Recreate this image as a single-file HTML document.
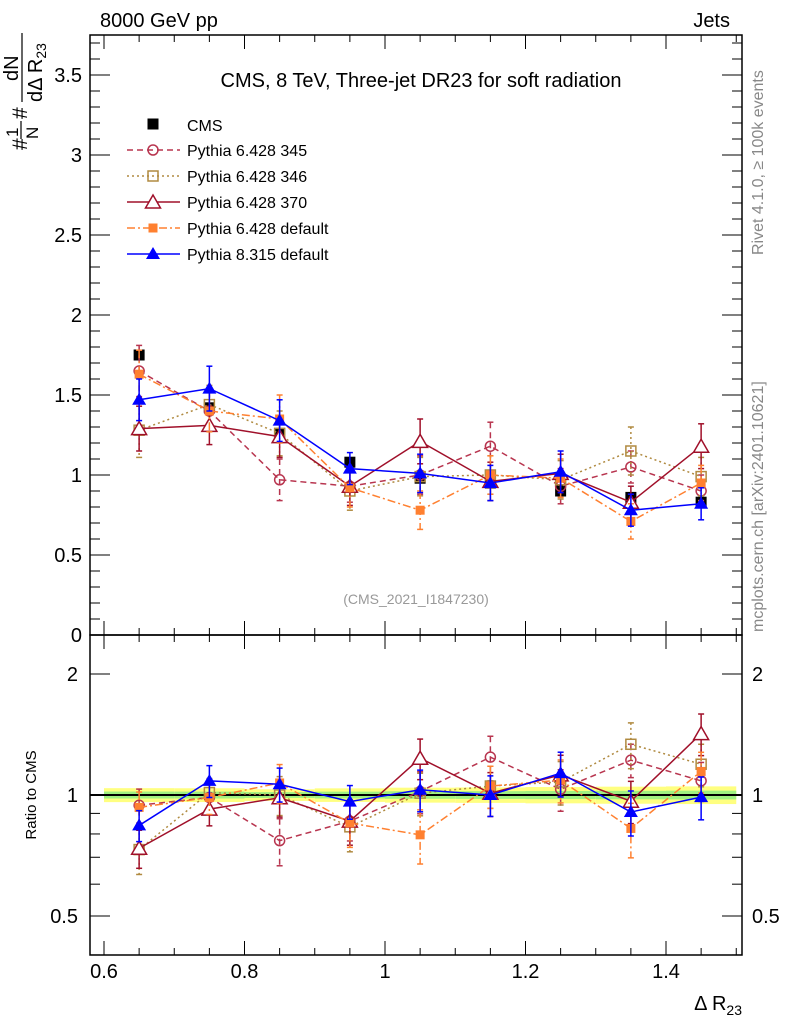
<!DOCTYPE html>
<html><head><meta charset="utf-8"><style>
html,body{margin:0;padding:0;background:#fff}
svg{display:block;font-family:"Liberation Sans",sans-serif}
</style></head><body>
<svg id="c" width="786" height="1024" viewBox="0 0 786 1024"></svg>
<script>
const xs = [0.65,0.75,0.85,0.95,1.05,1.15,1.25,1.35,1.45];
const cmsVals = [1.75,1.42,1.26,1.08,0.98,0.95,0.90,0.86,0.83];
const cmsErr  = [0.05,0.04,0.03,0.03,0.03,0.03,0.03,0.03,0.03];
const p345 = [1.65,1.40,0.97,0.93,1.00,1.18,0.93,1.05,0.90];
const e345 = [0.16,0.12,0.13,0.10,0.12,0.15,0.11,0.10,0.10];
const p346 = [1.28,1.44,1.26,0.90,0.99,1.00,0.97,1.15,0.99];
const e346 = [0.17,0.12,0.14,0.12,0.12,0.12,0.12,0.15,0.12];
const p370 = [1.29,1.31,1.24,0.93,1.21,0.96,1.01,0.83,1.18];
const e370 = [0.14,0.12,0.13,0.12,0.14,0.12,0.12,0.10,0.14];
const pdef = [1.63,1.40,1.35,0.92,0.78,1.00,0.98,0.71,0.95];
const edef = [0.15,0.13,0.15,0.12,0.12,0.12,0.12,0.11,0.11];
const p8 = [1.47,1.54,1.34,1.04,1.01,0.95,1.02,0.78,0.82];
const e8 = [0.13,0.14,0.13,0.10,0.12,0.11,0.13,0.10,0.10];
const mainTicks = [0,0.5,1,1.5,2,2.5,3,3.5];
const xTicks = [0.6,0.8,1,1.2,1.4];
const ratioTicks = [0.5,1,2];

const svg=document.getElementById('c');
const NS='http://www.w3.org/2000/svg';
function el(t,a,p){const e=document.createElementNS(NS,t);for(const k in a)e.setAttribute(k,a[k]);(p||svg).appendChild(e);return e;}
const L=90,R=742,T=35,M=635,B=955;
const X=v=>104+(v-0.6)*702.5;
const Y=v=>635-160*v;
const YR=r=>795-121*Math.log2(r);

let f=el('rect',{x:L,y:T,width:R-L,height:M-T,fill:'none',stroke:'#000','stroke-width':1.5});

f=el('rect',{x:L,y:M,width:R-L,height:B-M,fill:'none',stroke:'#000','stroke-width':1.5});


for(let v=0.6;v<=1.501;v+=0.05){const x=X(v);const maj=Math.abs(v*5-Math.round(v*5))<1e-6;const l=maj?14:7;
 el('line',{x1:x,x2:x,y1:M,y2:M-l,stroke:'#000'});el('line',{x1:x,x2:x,y1:T,y2:T+l,stroke:'#000'});
 el('line',{x1:x,x2:x,y1:B,y2:B-l,stroke:'#000'});el('line',{x1:x,x2:x,y1:M,y2:M+l,stroke:'#000'});}
xTicks.forEach(v=>{const t=el('text',{x:X(v),y:978,'font-size':20,'text-anchor':'middle'});t.textContent=String(v);
 });
let t=el('text',{x:742,y:1010,'font-size':20,'text-anchor':'end'});t.innerHTML='Δ R<tspan font-size="14" dy="5">23</tspan>';


for(let i=0;i<=37;i++){const v=i/10;const y=Y(v);if(y<T)break;const l=(i%5==0)?20:10;
 el('line',{x1:L,x2:L+l,y1:y,y2:y,stroke:'#000'});el('line',{x1:R,x2:R-l,y1:y,y2:y,stroke:'#000'});}
mainTicks.forEach(v=>{const t=el('text',{x:82,y:Y(v)+7,'font-size':20,'text-anchor':'end'});t.textContent=String(v);
 });
[0.4,0.5,0.6,0.7,0.8,0.9,1,2].forEach(r=>{const y=YR(r);if(y>B||y<M)return;const maj=ratioTicks.includes(r);const l=maj?20:10;
 el('line',{x1:L,x2:L+l,y1:y,y2:y,stroke:'#000'});el('line',{x1:R,x2:R-l,y1:y,y2:y,stroke:'#000'});});
ratioTicks.forEach(r=>{let t=el('text',{x:78,y:YR(r)+7,'font-size':20,'text-anchor':'end'});t.textContent=String(r);
 
 t=el('text',{x:752,y:YR(r)+7,'font-size':20});t.textContent=String(r);
 });

// y title (rotated pieces)
const yt=el('g',{transform:'rotate(-90)'});
function rt(s,sy,bx,fs,p){const e=el('text',{x:-sy,y:bx,'font-size':fs},p||yt);e.innerHTML=s;return e;}
rt('#',150,27,21);
rt('1',137,18,17);
el('line',{x1:-139,x2:-121,y1:21,y2:21,stroke:'#000','stroke-width':1.2},yt);
rt('N',139,38,17);
rt('#',119,27,21);
rt('dN',81,18,20);
el('line',{x1:-102,x2:-33,y1:22,y2:22,stroke:'#000','stroke-width':1.2},yt);
rt('dΔ R<tspan font-size="14" dy="4">23</tspan>',102,42,20);

t=el('text',{x:0,y:0,'font-size':15,transform:'translate(36,795) rotate(-90)','text-anchor':'middle'});t.textContent='Ratio to CMS';


function txt(x,y,s,fs,name,extra){const t=el('text',Object.assign({x:x,y:y,'font-size':fs},extra||{}));t.textContent=s;return t;}
txt(100,27,'8000 GeV pp',20,'beam-label');
txt(730,27,'Jets',20,'process-label',{'text-anchor':'end'});
txt(421,87,'CMS, 8 TeV, Three-jet DR23 for soft radiation',20,'plot-title',{'text-anchor':'middle'});
txt(416,604,'(CMS_2021_I1847230)',14,'analysis-id',{'text-anchor':'middle',fill:'#999'});
txt(0,0,'Rivet 4.1.0, ≥ 100k events',16,'rivet-label',{fill:'#888',transform:'translate(763,255) rotate(-90)'});
txt(0,0,'mcplots.cern.ch [arXiv:2401.10621]',16,'mcplots-label',{fill:'#888',transform:'translate(763,632) rotate(-90)'});

for(let i=0;i<xs.length;i++){const x0=X(xs[i]-0.05),x1=X(xs[i]+0.05);const rel=cmsErr[i]/cmsVals[i];
 let b=el('rect',{x:x0,y:YR(1+rel*1.4),width:x1-x0,height:YR(1-rel*1.4)-YR(1+rel*1.4),fill:'#ffff80'});
 
 b=el('rect',{x:x0,y:YR(1+rel*0.7),width:x1-x0,height:YR(1-rel*0.7)-YR(1+rel*0.7),fill:'#a0f080'});
 }
el('line',{x1:L,x2:R,y1:YR(1),y2:YR(1),stroke:'#000','stroke-width':2});

function marker(g,type,x,y,col){
 if(type==='sq')el('rect',{x:x-5.5,y:y-5.5,width:11,height:11,fill:col},g);
 if(type==='osq')el('rect',{x:x-5,y:y-5,width:10,height:10,fill:'none',stroke:col,'stroke-width':1.5},g);
 if(type==='oc')el('circle',{cx:x,cy:y,r:5,fill:'none',stroke:col,'stroke-width':1.5},g);
 if(type==='otri')el('path',{d:`M${x} ${y-7}L${x+7.5} ${y+6}L${x-7.5} ${y+6}Z`,fill:'#fff',stroke:col,'stroke-width':1.5},g);
 if(type==='fsq')el('rect',{x:x-4.5,y:y-4.5,width:9,height:9,fill:col},g);
 if(type==='ftri')el('path',{d:`M${x} ${y-7}L${x+7} ${y+5}L${x-7} ${y+5}Z`,fill:col},g);
}
const series=[
 {n:'pythia-6-428-345',vals:p345,err:e345,col:'#b8354f',dash:'6,4',m:'oc',label:'Pythia 6.428 345'},
 {n:'pythia-6-428-346',vals:p346,err:e346,col:'#b08a40',dash:'2,3',m:'osq',label:'Pythia 6.428 346'},
 {n:'pythia-6-428-370',vals:p370,err:e370,col:'#a0102a',dash:'',m:'otri',label:'Pythia 6.428 370'},
 {n:'pythia-6-428-default',vals:pdef,err:edef,col:'#ff8030',dash:'8,3,2,3',m:'fsq',label:'Pythia 6.428 default'},
 {n:'pythia-8-315-default',vals:p8,err:e8,col:'#0000ff',dash:'',m:'ftri',label:'Pythia 8.315 default'},
];
function drawSeries(s,yf,ratio){
 const g=el('g',{});
 const v=s.vals.map((a,i)=>ratio?a/cmsVals[i]:a);const e=s.err.map((a,i)=>ratio?a/cmsVals[i]:a);
 el('polyline',{points:xs.map((x,i)=>X(x)+','+yf(v[i])).join(' '),fill:'none',stroke:s.col,'stroke-width':1.5,'stroke-dasharray':s.dash},g);
 xs.forEach((x,i)=>{const px=X(x);const y1=yf(v[i]+e[i]),y2=yf(Math.max(v[i]-e[i],0.01));
  el('line',{x1:px,x2:px,y1:y1,y2:y2,stroke:s.col,'stroke-width':1.5,'stroke-dasharray':s.dash},g);
  el('line',{x1:px-3,x2:px+3,y1:y1,y2:y1,stroke:s.col,'stroke-width':1.5},g);
  el('line',{x1:px-3,x2:px+3,y1:y2,y2:y2,stroke:s.col,'stroke-width':1.5},g);});
 xs.forEach((x,i)=>marker(g,s.m,X(x),yf(v[i]),s.col));
}
{const g=el('g',{});
 xs.forEach((x,i)=>{el('line',{x1:X(x),x2:X(x),y1:Y(cmsVals[i]+cmsErr[i]),y2:Y(cmsVals[i]-cmsErr[i]),stroke:'#000'},g);marker(g,'sq',X(x),Y(cmsVals[i]),'#000');});}
series.forEach(s=>drawSeries(s,Y,false));
series.forEach(s=>drawSeries(s,YR,true));

const lg=el('g',{});
marker(lg,'sq',153,124,'#000');
let lt=el('text',{x:187,y:131,'font-size':16},lg);lt.textContent='CMS';
series.forEach((s,i)=>{const y=150+26*i;
 el('line',{x1:127,x2:180,y1:y,y2:y,stroke:s.col,'stroke-width':1.5,'stroke-dasharray':s.dash},lg);
 marker(lg,s.m,153,y,s.col);
 const t=el('text',{x:187,y:y+6,'font-size':16},lg);t.textContent=s.label;
 });
</script>
</body></html>
